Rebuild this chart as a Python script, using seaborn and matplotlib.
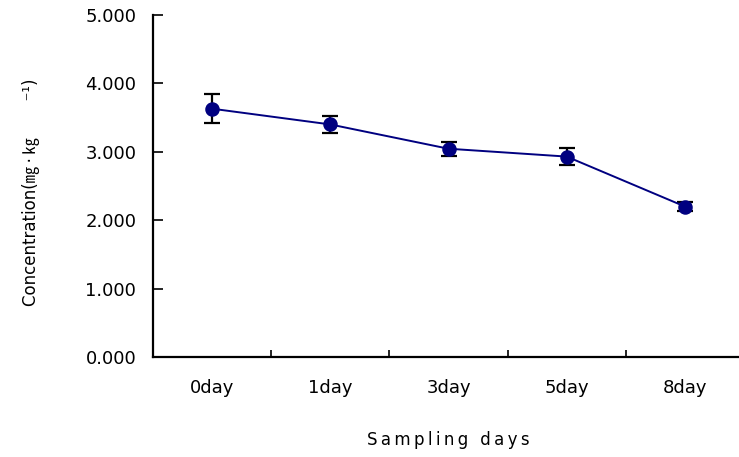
import matplotlib
matplotlib.use("Agg")
import matplotlib.pyplot as plt
from matplotlib.ticker import FixedLocator, FormatStrFormatter
import seaborn as sns
import pandas as pd

days = ["0day", "1day", "3day", "5day", "8day"]
concentration = [3.63, 3.40, 3.045, 2.93, 2.20]
std_err = [0.21, 0.13, 0.10, 0.12, 0.06]

sns.set_theme(style="white")
plt.rcParams["font.family"] = ["DejaVu Sans", "Noto Sans CJK KR"]

df = pd.DataFrame({"day": days, "conc": concentration})

fig = plt.figure(figsize=(7.39, 4.57), dpi=100)
ax = fig.add_axes([153 / 739, 1 - 357 / 457, 591 / 739, 342 / 457])

navy = "#000080"
ax.errorbar(range(len(days)), concentration, yerr=std_err, fmt="none",
            ecolor="black", elinewidth=1.6, capsize=5.8, capthick=1.6, zorder=2)
sns.pointplot(data=df, x="day", y="conc", color=navy, markers="o",
              markersize=9.4, linewidth=1.4, errorbar=None, ax=ax, zorder=3)

ax.set_xlim(-0.5, 4.5)
ax.set_ylim(0, 5)
ax.set_yticks([0, 1, 2, 3, 4, 5])
ax.yaxis.set_major_formatter(FormatStrFormatter("%.3f"))
ax.tick_params(axis="y", direction="in", length=7, width=1.2, labelsize=13,
               pad=12, left=True, colors="black", labelcolor="black")
ax.tick_params(axis="x", which="major", length=0, labelsize=13, pad=16,
               labelcolor="black")
ax.xaxis.set_minor_locator(FixedLocator([0.5, 1.5, 2.5, 3.5]))
ax.tick_params(axis="x", which="minor", direction="in", length=5, width=1.2,
               bottom=True, colors="black")

for side in ["top", "right"]:
    ax.spines[side].set_visible(False)
for side in ["left", "bottom"]:
    ax.spines[side].set_color("black")
    ax.spines[side].set_linewidth(1.6)

# letter-spaced axis title
ax.set_xlabel("\u2009".join("Sampling days"), fontsize=12, color="black", va="center")
ax.xaxis.set_label_coords(0.5, -(440 - 357) / 342)
ax.set_ylabel("Concentration(\u338e\u2009\u00b7\u2009\u338f" + " " * 7 + "\u207b\u00b9)",
              fontsize=12, color="black", va="center")
ax.yaxis.set_label_coords(-(153 - 31) / 591, (357 - 192) / 342)

fig.savefig("out.png", dpi=100)
